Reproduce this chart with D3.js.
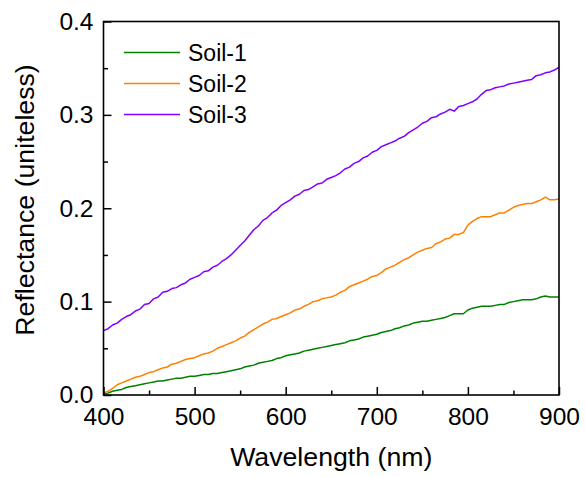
<!DOCTYPE html>
<html><head><meta charset="utf-8">
<script src="https://cdn.jsdelivr.net/npm/d3@7"></script>
<style>
html,body{margin:0;padding:0;background:#fff;}
svg text{font-family:"Liberation Sans",Arial,sans-serif;fill:#000;}
</style></head>
<body><svg id="chart" width="586" height="477"></svg>
<script>
const wavelength = [400,405,410,415,420,425,430,435,440,445,450,455,460,465,470,475,480,485,490,495,
500,505,510,515,520,525,530,535,540,545,550,555,560,565,570,575,580,585,590,595,
600,605,610,615,620,625,630,635,640,645,650,655,660,665,670,675,680,685,690,695,
700,705,710,715,720,725,730,735,740,745,750,755,760,765,770,775,780,785,790,795,
800,805,810,815,820,825,830,835,840,845,850,855,860,865,870,875,880,885,890,895,900];

const soil1 = [.001,.002,.004,.005,.006,.008,.009,.010,.011,.012,.013,.014,.015,.015,.016,.017,.018,.018,.019,.020,
.020,.021,.022,.022,.023,.023,.024,.025,.026,.027,.028,.030,.031,.032,.034,.035,.036,.037,.039,.040,
.042,.043,.044,.045,.047,.048,.049,.050,.051,.052,.053,.054,.055,.056,.058,.059,.060,.062,.063,.064,
.065,.067,.068,.069,.071,.072,.074,.075,.077,.078,.079,.079,.080,.081,.082,.083,.085,.087,.087,.087,
.091,.093,.094,.095,.095,.095,.096,.097,.097,.099,.100,.101,.102,.102,.102,.103,.105,.106,.105,.105,.105];

const soil2 = [.002,.004,.007,.011,.013,.015,.017,.019,.020,.022,.024,.025,.027,.029,.030,.033,.034,.036,.038,.039,
.040,.042,.044,.045,.047,.050,.052,.054,.056,.058,.061,.063,.067,.070,.073,.076,.078,.081,.082,.084,
.086,.088,.091,.092,.095,.097,.100,.101,.103,.104,.105,.107,.110,.112,.116,.118,.120,.122,.124,.127,
.128,.131,.135,.137,.139,.142,.145,.147,.150,.153,.155,.157,.158,.162,.164,.167,.168,.172,.172,.174,
.182,.186,.189,.191,.191,.191,.193,.195,.195,.198,.201,.203,.204,.205,.205,.207,.209,.212,.209,.209,.210];

const soil3 = [.069,.071,.075,.077,.081,.084,.086,.090,.092,.097,.098,.103,.105,.110,.111,.114,.115,.118,.120,.124,
.126,.128,.132,.133,.137,.139,.143,.146,.150,.155,.160,.165,.171,.177,.181,.187,.190,.195,.198,.203,
.206,.209,.213,.215,.219,.220,.223,.226,.227,.231,.233,.235,.238,.242,.244,.248,.250,.254,.256,.260,
.262,.266,.268,.270,.272,.275,.277,.281,.284,.287,.291,.293,.297,.298,.301,.303,.306,.304,.309,.310,
.312,.314,.317,.322,.326,.327,.329,.330,.331,.333,.334,.335,.336,.337,.338,.342,.343,.345,.346,.348,.351];

const seriesNames = ["Soil-1","Soil-2","Soil-3"];
const seriesColors = ["#008000","#FF8000","#8000FF"];
const xMajorTicks = [400,500,600,700,800,900];
const xMinorTicks = [450,550,650,750,850];
const yMajorTicks = [0,0.1,0.2,0.3,0.4];
const yMinorTicks = [0.05,0.15,0.25,0.35];

const series = [soil1, soil2, soil3];
const svg = d3.select("#chart");
const L = 103.5, R = 559, T = 21.5, B = 395;
const x = d3.scaleLinear().domain([400,900]).range([L,R]);
const y = d3.scaleLinear().domain([0,0.4]).range([B,T]);

// lines
const line = d3.line().x((d,i)=>x(wavelength[i])).y(d=>y(d));
series.forEach((s,k)=>{
  svg.append("path").datum(s).attr("d",line).attr("fill","none")
    .attr("stroke",seriesColors[k]).attr("stroke-width",1.5).attr("stroke-linejoin","round");
});

const fs = 24.5;
// x axis
const gx = svg.append("g").attr("transform",`translate(0,${B})`)
  .call(d3.axisBottom(x).tickValues(xMajorTicks).tickFormat(d3.format("d")).tickSizeInner(-8).tickSizeOuter(0).tickPadding(12.5));
const gxm = svg.append("g").attr("transform",`translate(0,${B})`)
  .call(d3.axisBottom(x).tickValues(xMinorTicks).tickFormat("").tickSizeInner(-4.5).tickSizeOuter(0));
// y axis
const gy = svg.append("g").attr("transform",`translate(${L},0)`)
  .call(d3.axisLeft(y).tickValues(yMajorTicks).tickFormat(d3.format(".1f")).tickSizeInner(-8).tickSizeOuter(0).tickPadding(10));
const gym = svg.append("g").attr("transform",`translate(${L},0)`)
  .call(d3.axisLeft(y).tickValues(yMinorTicks).tickFormat("").tickSizeInner(-4.5).tickSizeOuter(0));
[gx,gxm,gy,gym].forEach(g=>{
  g.selectAll(".domain").remove();
  g.selectAll("line").attr("stroke","#000").attr("stroke-width",1.5);
  g.selectAll("text").style("font-size",fs+"px").style("font-family","'Liberation Sans',Arial,sans-serif");
});
// frame
svg.append("rect").attr("x",L).attr("y",T).attr("width",R-L).attr("height",B-T)
  .attr("fill","none").attr("stroke","#000").attr("stroke-width",1.6);

// titles
svg.append("text").attr("x",(L+R)/2).attr("y",466).attr("text-anchor","middle")
  .style("font-size","26.7px").text("Wavelength (nm)");
svg.append("text").attr("transform",`translate(34,200) rotate(-90)`).attr("text-anchor","middle")
  .style("font-size","26.7px").text("Reflectance (uniteless)");

// legend
seriesNames.forEach((n,k)=>{
  const ly = 52.5 + k*31;
  svg.append("line").attr("x1",124).attr("x2",180).attr("y1",ly).attr("y2",ly)
    .attr("stroke",seriesColors[k]).attr("stroke-width",1.5);
  svg.append("text").attr("x",188).attr("y",ly).attr("dy","0.35em")
    .style("font-size","23px").text(n);
});
</script></body></html>
